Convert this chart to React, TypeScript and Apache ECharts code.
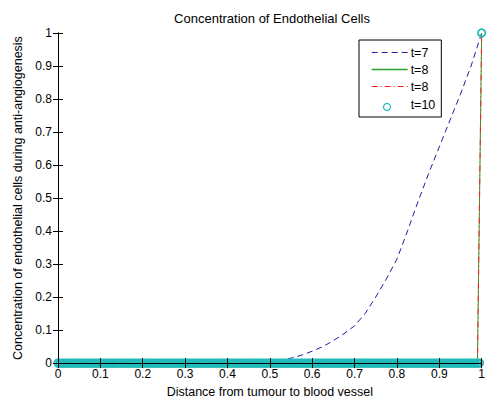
import React, { useEffect, useRef } from "react";
import * as echarts from "echarts";

const TITLE = "Concentration of Endothelial Cells";
const X_LABEL = "Distance from tumour to blood vessel";
const Y_LABEL = "Concentration of endothelial cells during anti-angiogenesis";
// two curves share the label "t=8"; the trailing space only keeps the series apart
const SERIES_NAMES = ["t=7", "t=8", "t=8 ", "t=10"];

const t7Points: [number, number][] = [
  [0, 0], [0.1, 0], [0.2, 0], [0.3, 0], [0.4, 0], [0.475, 0.002], [0.5, 0.005],
  [0.525, 0.008], [0.55, 0.015], [0.575, 0.024], [0.6, 0.036], [0.625, 0.05],
  [0.65, 0.068], [0.675, 0.089], [0.7, 0.113], [0.725, 0.15], [0.75, 0.2],
  [0.775, 0.255], [0.8, 0.315], [0.825, 0.4], [0.85, 0.49], [0.875, 0.575],
  [0.9, 0.655], [0.925, 0.735], [0.95, 0.815], [0.975, 0.9], [1, 1],
];
const t8GreenPoints: [number, number][] = [[0, 0], [0.99, 0], [1, 1]];
const t8RedPoints: [number, number][] = [[0, 0], [0.99, 0], [1, 1]];
const T10_COUNT = 201;
const t10X: number[] = Array.from({ length: T10_COUNT }, (_, i) => i / (T10_COUNT - 1));
const t10Y: number[] = t10X.map((x) => (x === 1 ? 1 : 0));

const COLORS = ["#1f1fa0", "#2ca02c", "#ff1a1a", "#1fbaba"];
const DASHES: (number[] | null)[] = [[6, 4], null, [6, 3, 1, 3], null];
const FONT = "'Liberation Sans', Arial, Helvetica, sans-serif";

export default function App() {
  const ref = useRef<HTMLDivElement>(null);
  useEffect(() => {
    if (!ref.current) return;
    const chart = echarts.init(ref.current, undefined, { renderer: "svg" });
    const gridLeft = 58, gridRight = 2, gridTop = 33, gridBottom = 34;
    const fmt = (v: number) => String(Math.round(v * 10) / 10);
    const baseAxis = {
      type: "value" as const,
      min: 0,
      max: 1,
      interval: 0.1,
      axisLine: { show: true, lineStyle: { color: "#000", width: 1 } },
      axisTick: { show: true, inside: true, length: 5, lineStyle: { color: "#000" } },
      splitLine: { show: false },
      z: 10,
    };
    const legendTop = 40, legendPadTop = 6, itemH = 14, itemGap = 4;

    chart.setOption({
      animation: false,
      backgroundColor: "#fff",
      textStyle: { fontFamily: FONT },
      grid: { left: gridLeft, right: gridRight, top: gridTop, bottom: gridBottom, containLabel: false },
      legend: {
        show: true,
        orient: "vertical",
        left: 359,
        top: legendTop,
        itemWidth: 36,
        itemHeight: itemH,
        itemGap: itemGap,
        padding: [legendPadTop, 6, 4, 12],
        backgroundColor: "#fff",
        borderColor: "#000",
        borderWidth: 1,
        borderRadius: 0,
        itemStyle: { opacity: 0 },
        lineStyle: { width: 1 },
        textStyle: { color: "#000", fontSize: 12.5, fontFamily: FONT, padding: [0, 0, 0, -2] },
        formatter: (n: string) => n.trim(),
        data: SERIES_NAMES.map((name, i) => ({
          name,
          lineStyle: i < 3
            ? { color: COLORS[i], width: i === 1 ? 1.3 : 1, type: DASHES[i] || [36, 0], opacity: 1 }
            : { opacity: 0 },
        })),
        selectedMode: false,
        z: 20,
      },
      xAxis: [
        {
          ...baseAxis,
          position: "bottom",
          name: X_LABEL,
          nameLocation: "middle",
          nameGap: 14,
          nameTextStyle: { color: "#000", fontSize: 12.5, fontFamily: FONT, verticalAlign: "top" },
          axisLabel: { color: "#000", fontSize: 12, fontFamily: FONT, margin: 5, formatter: fmt, showMaxLabel: true, showMinLabel: true },
        },
        { ...baseAxis, position: "top", axisLabel: { show: false } },
      ],
      yAxis: [
        {
          ...baseAxis,
          position: "left",
          name: Y_LABEL,
          nameLocation: "middle",
          nameGap: 29,
          nameRotate: 90,
          nameTextStyle: { color: "#000", fontSize: 12.5, fontFamily: FONT },
          axisLabel: { color: "#000", fontSize: 12, fontFamily: FONT, margin: 6, formatter: fmt, showMaxLabel: true, showMinLabel: true },
        },
        { ...baseAxis, position: "right", axisLabel: { show: false } },
      ],
      graphic: [
        {
          type: "text",
          x: 272,
          y: 18,
          style: { text: TITLE, fill: "#000", font: `13px ${FONT}`, textAlign: "center", textVerticalAlign: "middle" },
        },
        {
          type: "circle",
          shape: { cx: 387, cy: legendTop + legendPadTop + 3 * (itemH + itemGap) + itemH / 2, r: 3.5 },
          style: { fill: null, stroke: COLORS[3], lineWidth: 1.2 },
          z: 200,
        },
      ],
      series: [
        {
          name: SERIES_NAMES[0],
          type: "line",
          data: t7Points,
          showSymbol: false,
          symbol: "none",
          itemStyle: { color: COLORS[0] },
          lineStyle: { color: COLORS[0], width: 1, type: DASHES[0] },
          z: 2,
        },
        {
          name: SERIES_NAMES[1],
          type: "line",
          data: t8GreenPoints,
          showSymbol: false,
          symbol: "none",
          itemStyle: { color: COLORS[1] },
          lineStyle: { color: COLORS[1], width: 1 },
          z: 3,
        },
        {
          name: SERIES_NAMES[2],
          type: "line",
          data: t8RedPoints,
          showSymbol: false,
          symbol: "none",
          itemStyle: { color: COLORS[2] },
          lineStyle: { color: COLORS[2], width: 1, type: DASHES[2] },
          z: 4,
        },
        {
          name: SERIES_NAMES[3],
          type: "scatter",
          data: t10X.map((x, i) => [x, t10Y[i]]),
          symbol: "circle",
          symbolSize: 7.5,
          itemStyle: { color: "rgba(0,0,0,0)", borderColor: COLORS[3], borderWidth: 1.8, opacity: 1 },
          clip: false,
          z: 5,
        },
      ],
    });
    return () => chart.dispose();
  }, []);
  return <div ref={ref} style={{ position: "absolute", left: 0, top: 0, width: 488, height: 403 }} />;
}
